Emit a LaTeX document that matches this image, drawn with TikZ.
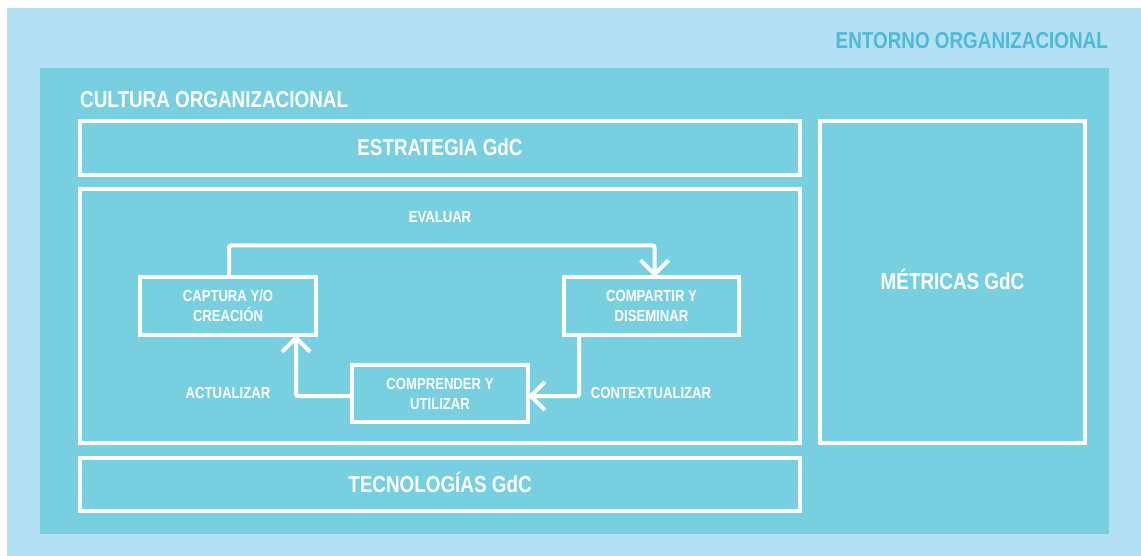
\documentclass[tikz,border=0pt]{standalone}
\usepackage{fontspec}
\setmainfont{Liberation Sans}[FakeStretch=0.82]
\usetikzlibrary{arrows.meta}
\definecolor{outerblue}{HTML}{B3E0F2}
\definecolor{innerblue}{HTML}{78CFE0}
\definecolor{labelblue}{HTML}{4DB8DA}
\begin{document}
\begin{tikzpicture}[x=1pt,y=-1pt,
  frame/.style={draw=white, line width=4pt, inner sep=0pt, outer sep=0pt},
  bigtext/.style={text=white, font=\bfseries\fontsize{23}{26}\selectfont},
  smalltext/.style={text=white, font=\bfseries\fontsize{16}{20}\selectfont, align=center},
  flow/.style={draw=white, line width=4pt, rounded corners=2pt},
  tipflow/.style={flow, -{Straight Barb[length=14pt,width=28pt,line width=4pt]}}]
\useasboundingbox (0,0) rectangle (1141,556);
\fill[white] (0,0) rectangle (1141,556);
\fill[outerblue] (7,8) rectangle (1141,556);
\fill[innerblue] (40,68) rectangle (1109,534);
\node[anchor=east, inner sep=0pt, text=labelblue, font=\bfseries\fontsize{23}{26}\selectfont] (entorno) at (1108,41) {ENTORNO ORGANIZACIONAL};
\node[anchor=west, inner sep=0pt, bigtext] (cultura) at (80,100) {CULTURA ORGANIZACIONAL};
% main frames
\node[frame, minimum width=720pt, minimum height=54pt] (estr) at (440,148) {};
\node[bigtext] at (440,147.5) {ESTRATEGIA GdC};
\node[frame, minimum width=720pt, minimum height=254pt] (proc) at (440,316) {};
\node[frame, minimum width=720pt, minimum height=53pt] (tecn) at (440,484.5) {};
\node[bigtext] at (440,482.5) {TECNOLOGÍAS GdC};
\node[frame, minimum width=265pt, minimum height=321.5pt] (metr) at (952.5,282.25) {};
\node[bigtext] at (952.5,279.5) {MÉTRICAS GdC};
% process boxes
\node[frame, minimum width=176pt, minimum height=58pt] (capt) at (228,306) {};
\node[smalltext] at (capt) {CAPTURA Y/O\\CREACIÓN};
\node[frame, minimum width=175pt, minimum height=58pt] (comp) at (651.5,306) {};
\node[smalltext] at (comp) {COMPARTIR Y\\DISEMINAR};
\node[frame, minimum width=176pt, minimum height=57pt] (compr) at (440,393.5) {};
\node[smalltext] at (compr) {COMPRENDER Y\\UTILIZAR};
% arrows
\coordinate (c1) at (229,245.5);
\coordinate (c2) at (654.5,245.5);
\draw[tipflow] (capt.north -| c1) -- (c1) -- (c2) -- (comp.north -| c2);
\coordinate (c3) at (579,396);
\draw[tipflow] (comp.south -| c3) -- (c3) -- (compr.east |- c3);
\coordinate (c4) at (296,396);
\draw[tipflow] (compr.west |- c4) -- (c4) -- (capt.south -| c4);
% labels
\node[smalltext] (evaluar) at (440,217) {EVALUAR};
\node[smalltext] (contex) at (651,393) {CONTEXTUALIZAR};
\node[smalltext] (actual) at (228,393) {ACTUALIZAR};
\end{tikzpicture}
\end{document}
